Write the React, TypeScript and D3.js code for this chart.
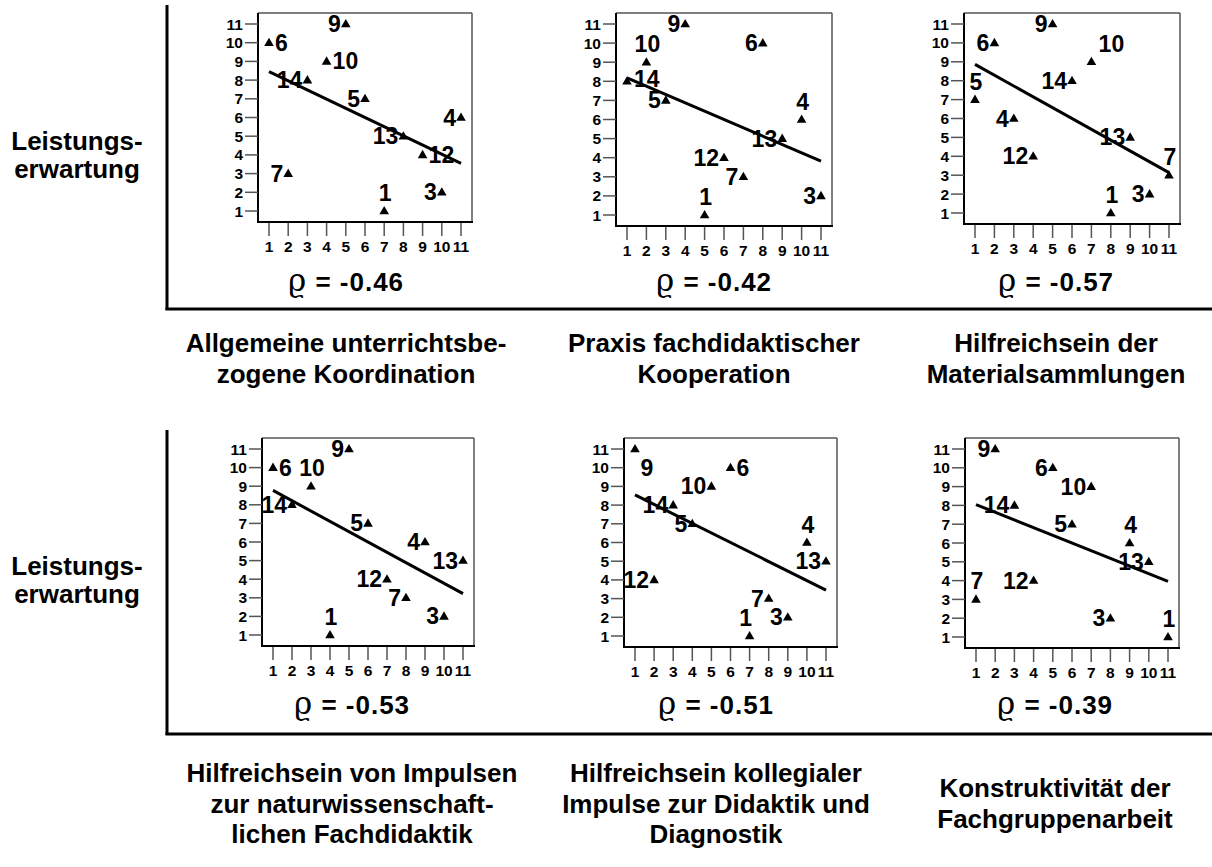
import * as d3 from 'd3';

// school ids shown as point labels
const SCHOOLS = [1, 3, 4, 5, 6, 7, 9, 10, 12, 13, 14];
// rank on "Leistungserwartung" (y axis), same order as SCHOOLS
const LEISTUNG_RANK = [1, 2, 6, 7, 10, 3, 11, 9, 4, 5, 8];

// x ranks per panel, same order as SCHOOLS
const X_KOORDINATION = [7, 10, 11, 6, 1, 2, 5, 4, 9, 8, 3];
const X_KOOPERATION = [5, 11, 10, 3, 8, 7, 4, 2, 6, 9, 1];
const X_MATERIAL = [8, 10, 3, 1, 2, 11, 5, 7, 4, 9, 6];
const X_FACHDIDAKTIK = [4, 10, 9, 6, 1, 8, 5, 3, 7, 11, 2];
const X_KOLLEGIAL = [7, 9, 10, 4, 6, 8, 1, 5, 2, 11, 3];
const X_FACHGRUPPE = [11, 8, 9, 6, 5, 1, 2, 7, 4, 10, 3];

const RHO = ['-0.46', '-0.42', '-0.57', '-0.53', '-0.51', '-0.39'];

const TITLES = [
  ['Allgemeine unterrichtsbe-', 'zogene Koordination'],
  ['Praxis fachdidaktischer', 'Kooperation'],
  ['Hilfreichsein der', 'Materialsammlungen'],
  ['Hilfreichsein von Impulsen', 'zur naturwissenschaft-', 'lichen Fachdidaktik'],
  ['Hilfreichsein kollegialer', 'Impulse zur Didaktik und', 'Diagnostik'],
  ['Konstruktivität der', 'Fachgruppenarbeit'],
];

const ROW_LABEL = ['Leistungs-', 'erwartung'];
const TICKS = d3.range(1, 12);

// where each point label sits relative to its triangle (l, r, ru, a, al, ar, br)
const PLACEMENTS = [
  ['a', 'l', 'l', 'l', 'r', 'l', 'l', 'r', 'r', 'l', 'l'],
  ['a', 'l', 'a', 'l', 'l', 'l', 'l', 'a', 'l', 'l', 'ru'],
  ['a', 'l', 'l', 'a', 'l', 'a', 'l', 'ar', 'l', 'l', 'l'],
  ['a', 'l', 'l', 'l', 'r', 'l', 'l', 'a', 'l', 'l', 'l'],
  ['al', 'l', 'a', 'l', 'r', 'l', 'br', 'l', 'l', 'l', 'l'],
  ['a', 'l', 'a', 'l', 'l', 'a', 'l', 'l', 'l', 'l', 'l'],
];

const X_SERIES = [X_KOORDINATION, X_KOOPERATION, X_MATERIAL, X_FACHDIDAKTIK, X_KOLLEGIAL, X_FACHGRUPPE];

// box layout per panel
const BOXES = [
  { l: 258, t: 13, r: 472, b: 222, cx: 346 },
  { l: 616, t: 13, r: 832, b: 226, cx: 714 },
  { l: 964, t: 13, r: 1180, b: 224, cx: 1056 },
  { l: 262, t: 438, r: 474, b: 646, cx: 352 },
  { l: 624, t: 438, r: 837, b: 647, cx: 716 },
  { l: 965, t: 438, r: 1179, b: 648, cx: 1055 },
];

const FONT = '"Liberation Sans", Arial, Helvetica, sans-serif';

function Panel({ idx }: { idx: number }) {
  const box = BOXES[idx];
  const xs = X_SERIES[idx];
  const x = d3.scaleLinear().domain([1, 11]).range([box.l + 11, box.r - 11]);
  const y = d3.scaleLinear().domain([1, 11]).range([box.b - 11, box.t + 11]);
  const pts = SCHOOLS.map((id, i) => ({ id, x: xs[i], y: LEISTUNG_RANK[i], p: PLACEMENTS[idx][i] }));

  // least squares line
  const mx = d3.mean(pts, d => d.x)!;
  const my = d3.mean(pts, d => d.y)!;
  const sxy = d3.sum(pts, d => (d.x - mx) * (d.y - my));
  const sxx = d3.sum(pts, d => (d.x - mx) ** 2);
  const slope = sxy / sxx;
  const icpt = my - slope * mx;
  const line = d3.line<number>().x(v => x(v)).y(v => y(icpt + slope * v));

  const tri = d3.symbol(d3.symbolTriangle, 40)()!;

  const labelPos = (d: typeof pts[number]) => {
    const px = x(d.x);
    const py = y(d.y);
    switch (d.p) {
      case 'r': return { x: px + 6, y: py + 8, anchor: 'start' };
      case 'ru': return { x: px + 7, y: py + 6, anchor: 'start' };
      case 'a': return { x: px + 1, y: py - 10, anchor: 'middle' };
      case 'al': return { x: px - 4, y: py - 10, anchor: 'middle' };
      case 'ar': return { x: px + 20, y: py - 10, anchor: 'middle' };
      case 'br': return { x: px + 12, y: py + 27, anchor: 'middle' };
      default: return { x: px - 5, y: py + 8, anchor: 'end' };
    }
  };

  return (
    <g fontFamily={FONT} fontWeight="bold">
      <line x1={box.l} x2={box.r} y1={box.t} y2={box.t} stroke="#555" strokeWidth={1.5} />
      <line x1={box.r} x2={box.r} y1={box.t} y2={box.b} stroke="#555" strokeWidth={1.5} />
      <line x1={box.l} x2={box.l} y1={box.t} y2={box.b + 1} stroke="#000" strokeWidth={2} />
      <line x1={box.l - 1} x2={box.r + 1} y1={box.b} y2={box.b} stroke="#000" strokeWidth={2} />
      {TICKS.map(t => (
        <g key={'y' + t}>
          <line x1={box.l - 13} x2={box.l} y1={y(t)} y2={y(t)} stroke="#555" strokeWidth={1.5} />
          <text x={box.l - 15} y={y(t) + 5.5} fontSize={15.5} textAnchor="end">{t}</text>
        </g>
      ))}
      {TICKS.map(t => (
        <g key={'x' + t}>
          <line x1={x(t)} x2={x(t)} y1={box.b + 1} y2={box.b + 14} stroke="#555" strokeWidth={1.5} />
          <text x={x(t)} y={box.b + 29.5} fontSize={15.5} textAnchor="middle">{t}</text>
        </g>
      ))}
      <path d={line([1, 11])!} stroke="#000" strokeWidth={3} fill="none" />
      {pts.map(d => {
        const lp = labelPos(d);
        return (
          <g key={d.id}>
            <path d={tri} transform={`translate(${x(d.x)},${y(d.y) + 0.5})`} fill="#000" />
            <text x={lp.x} y={lp.y} fontSize={23} textAnchor={lp.anchor}>{d.id}</text>
          </g>
        );
      })}
      <text x={box.cx} y={idx < 3 ? 291 : 714} fontSize={26} textAnchor="middle" letterSpacing={1}>
        <tspan fontFamily='"DejaVu Serif", serif' fontWeight="normal" fontSize={31}>ϱ</tspan>
        {' = ' + RHO[idx]}
      </text>
    </g>
  );
}

function Title({ idx }: { idx: number }) {
  const lines = TITLES[idx];
  const mid = idx < 3 ? 367.5 : 812.5;
  const lh = 30.5;
  const y0 = mid - ((lines.length - 1) * lh) / 2;
  return (
    <text fontFamily={FONT} fontWeight="bold" fontSize={26} textAnchor="middle">
      {lines.map((s, i) => (
        <tspan key={i} x={BOXES[idx].cx} y={y0 + i * lh}>{s}</tspan>
      ))}
    </text>
  );
}

export default function App() {
  const W = 1212;
  const H = 867;
  return (
    <div style={{ position: 'absolute', left: 0, top: 0 }}>
      <svg width={W} height={H} style={{ display: 'block', background: '#fff' }}>
        {[0, 1].map(row => {
          const off = row * 425;
          return (
            <g key={row}>
              <line x1={167} x2={167} y1={5 + off} y2={310 + off} stroke="#000" strokeWidth={3} />
              <line x1={165.5} x2={W} y1={309 + off} y2={309 + off} stroke="#000" strokeWidth={3} />
              <text fontFamily={FONT} fontWeight="bold" fontSize={26} textAnchor="middle">
                {ROW_LABEL.map((s, i) => (
                  <tspan key={i} x={77} y={150 + off + i * 28}>{s}</tspan>
                ))}
              </text>
            </g>
          );
        })}
        {BOXES.map((_, i) => <Panel key={i} idx={i} />)}
        {TITLES.map((_, i) => <Title key={i} idx={i} />)}
      </svg>
    </div>
  );
}
